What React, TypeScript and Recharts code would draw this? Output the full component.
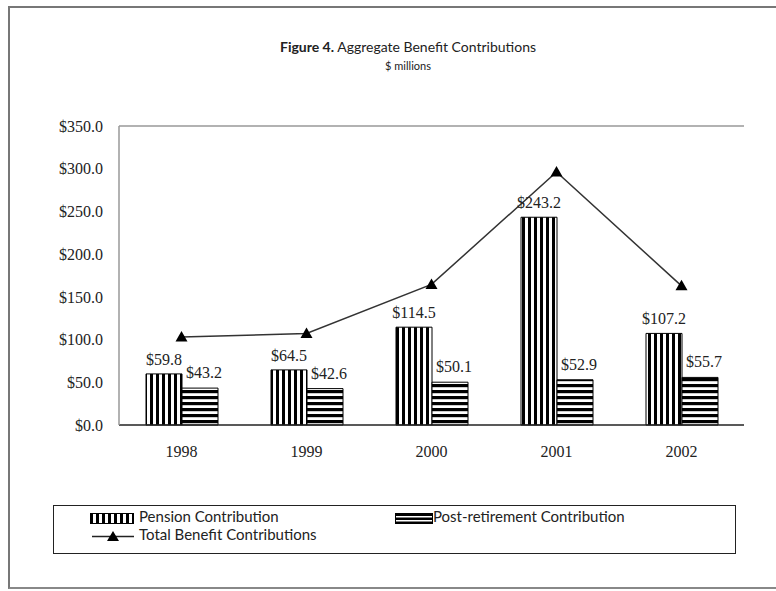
import React from "react";
import {
  ComposedChart,
  Bar,
  Line,
  XAxis,
  YAxis,
  LabelList,
  ReferenceLine,
} from "recharts";

const years = ["1998", "1999", "2000", "2001", "2002"];
const pension = [59.8, 64.5, 114.5, 243.2, 107.2];
const postRetirement = [43.2, 42.6, 50.1, 52.9, 55.7];
const totalBenefit = [103.0, 107.1, 164.6, 296.1, 162.9];
const yTicks = [0, 50, 100, 150, 200, 250, 300, 350];

const data = years.map((y, i) => ({
  year: y,
  pension: pension[i],
  post: postRetirement[i],
  total: totalBenefit[i],
}));

const money = (v: number) => `$${Number(v).toFixed(1)}`;
const SERIF = "'Liberation Serif', 'Times New Roman', serif";
const SANS = "Lato, 'Open Sans', sans-serif";

const Triangle = (props: any) => {
  const { cx, cy } = props;
  if (cx == null || cy == null) return null;
  return (
    <path
      d={`M${cx},${cy - 6} L${cx + 6},${cy + 4.5} L${cx - 6},${cy + 4.5} Z`}
      fill="#000"
    />
  );
};

export default function App() {
  return (
    <div style={{ position: "absolute", left: 0, top: 0, width: 776, height: 591, background: "#fff" }}>
      <svg width={0} height={0} style={{ position: "absolute" }}>
        <defs>
          <pattern id="vstripe" patternUnits="userSpaceOnUse" width="6" height="6">
            <rect x="0" y="0" width="6" height="6" fill="#fff" />
            <rect x="0" y="0" width="3" height="6" fill="#000" />
          </pattern>
          <pattern id="hstripe" patternUnits="userSpaceOnUse" width="6" height="6">
            <rect x="0" y="0" width="6" height="6" fill="#fff" />
            <rect x="0" y="0" width="6" height="3.2" fill="#000" />
          </pattern>
        </defs>
      </svg>
      {/* outer frame */}
      <div
        style={{
          position: "absolute",
          left: 8,
          top: 6,
          width: 800,
          height: 583,
          borderLeft: "2px solid #777",
          borderTop: "2px solid #777",
          borderBottom: "2px solid #888",
          boxSizing: "border-box",
        }}
      />
      {/* title */}
      <div
        style={{
          position: "absolute",
          left: 208,
          width: 400,
          top: 37,
          textAlign: "center",
          fontFamily: SANS,
          fontSize: 14,
          color: "#222",
          lineHeight: "20px",
        }}
      >
        <span style={{ fontWeight: "bold" }}>Figure 4.</span> Aggregate Benefit Contributions
      </div>
      <div
        style={{
          position: "absolute",
          left: 208,
          width: 400,
          top: 58,
          textAlign: "center",
          fontFamily: SANS,
          fontSize: 11,
          color: "#222",
          lineHeight: "16px",
        }}
      >
        $ millions
      </div>

      <div style={{ position: "absolute", left: 0, top: 0 }}>
        <ComposedChart
          width={776}
          height={591}
          data={data}
          margin={{ top: 126, right: 32, bottom: 146, left: 0 }}
          barGap={0}
          barCategoryGap="21%"
        >
          <XAxis
            dataKey="year"
            height={20}
            axisLine={{ stroke: "#222", strokeWidth: 1.5 }}
            tickLine={false}
            tickMargin={15}
            tick={{ fill: "#222", fontSize: 16, fontFamily: SERIF }}
          />
          <YAxis
            width={119}
            domain={[0, 350]}
            ticks={yTicks}
            tickFormatter={money}
            axisLine={{ stroke: "#999", strokeWidth: 1.5 }}
            tickLine={false}
            tickMargin={10}
            tick={{ fill: "#222", fontSize: 16, fontFamily: SERIF }}
            interval={0}
          />
          <YAxis
            yAxisId="r"
            orientation="right"
            width={0}
            domain={[0, 350]}
            tick={false}
            tickLine={false}
            axisLine={{ stroke: "#999", strokeWidth: 1.5 }}
          />
          <ReferenceLine y={350} stroke="#999" strokeWidth={1.5} />
          <Bar
            dataKey="pension"
            name="Pension Contribution"
            fill="url(#vstripe)"
            stroke="#000"
            strokeWidth={1}
            barSize={36}
            isAnimationActive={false}
          >
            <LabelList
              dataKey="pension"
              position="top"
              offset={9}
              formatter={money}
              style={{ fill: "#222", fontSize: 16, fontFamily: SERIF }}
            />
          </Bar>
          <Bar
            dataKey="post"
            name="Post-retirement Contribution"
            fill="url(#hstripe)"
            stroke="#000"
            strokeWidth={1}
            barSize={36}
            isAnimationActive={false}
          >
            <LabelList
              dataKey="post"
              position="top"
              offset={9}
              formatter={money}
              content={(p: any) => (
                <text
                  x={p.x + p.width / 2 + 4}
                  y={p.y - 10}
                  textAnchor="middle"
                  fill="#222"
                  fontSize={16}
                  fontFamily={SERIF}
                >
                  {money(p.value)}
                </text>
              )}
            />
          </Bar>
          <Line
            dataKey="total"
            name="Total Benefit Contributions"
            stroke="#333"
            strokeWidth={1.5}
            dot={<Triangle />}
            activeDot={false}
            isAnimationActive={false}
          />
        </ComposedChart>
      </div>

      {/* legend */}
      <div
        style={{
          position: "absolute",
          left: 53,
          top: 505,
          width: 683,
          height: 49,
          border: "1.5px solid #222",
          boxSizing: "border-box",
          fontFamily: SANS,
          fontSize: 15,
          color: "#222",
        }}
      >
        <svg width={44} height={11} style={{ position: "absolute", left: 36, top: 7 }}>
          <rect x={0.5} y={0.5} width={43} height={10} fill="url(#vstripe)" stroke="#000" />
        </svg>
        <div style={{ position: "absolute", left: 85, top: 1, lineHeight: "18px" }}>Pension Contribution</div>
        <svg width={38} height={11} style={{ position: "absolute", left: 341, top: 7 }}>
          <rect x={0} y={0} width={38} height={11} fill="#000" />
          <rect x={1} y={3} width={36} height={1.5} fill="#fff" />
          <rect x={1} y={7} width={36} height={1.5} fill="#fff" />
        </svg>
        <div style={{ position: "absolute", left: 379, top: 1, lineHeight: "18px" }}>Post-retirement Contribution</div>
        <svg width={42} height={12} style={{ position: "absolute", left: 38, top: 24 }}>
          <line x1={0} y1={6.5} x2={42} y2={6.5} stroke="#222" strokeWidth={1.5} />
          <path d="M21,1 L27,11 L15,11 Z" fill="#000" />
        </svg>
        <div style={{ position: "absolute", left: 85, top: 19, lineHeight: "18px" }}>Total Benefit Contributions</div>
      </div>
    </div>
  );
}
